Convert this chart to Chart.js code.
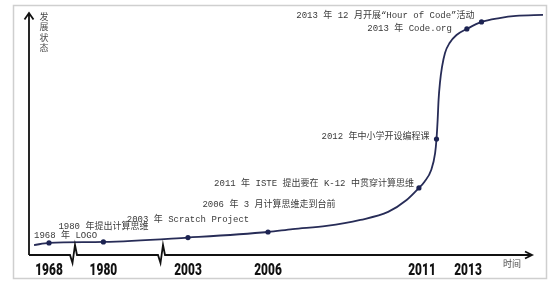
<!DOCTYPE html>
<html>
<head>
<meta charset="utf-8">
<script src="https://cdn.jsdelivr.net/npm/chart.js@4.4.1/dist/chart.umd.min.js"></script>
<style>
  html, body { margin: 0; padding: 0; background: #fff; }
  #wrap { width: 554px; height: 287px; position: relative; }
</style>
</head>
<body>
<div id="wrap"><canvas id="timeline"></canvas></div>
<script>
// years shown under the axis
const yearTicks = [1968, 1980, 2003, 2006, 2011, 2013];
// milestones (year as placed on the axis, "development level" 0-100)
const eventYears = [1968, 1980, 2003, 2006, 2010.9, 2011.63, 2012.95, 2013.45];
const eventValues = [5.0, 5.4, 7.2, 9.5, 27.7, 47.9, 93.4, 96.3];
const eventLabels = [
  "1968 年 LOGO",
  "1980 年提出计算思维",
  "2003 年 Scratch Project",
  "2006 年 3 月计算思维走到台前",
  "2011 年 ISTE 提出要在 K-12 中贯穿计算思维",
  "2012 年中小学开设编程课",
  "2013 年 Code.org",
  "2013 年 12 月开展“Hour of Code”活动",
];
// the S curve
const curveYears = [1966.75, 1968, 1980, 2003, 2006, 2006.8, 2007.9, 2009.0, 2009.9, 2010.5, 2010.9,
  2011.1, 2011.4, 2011.57, 2011.63, 2011.68, 2011.72, 2011.78, 2011.87, 2012.0, 2012.2, 2012.5,
  2012.95, 2013.45, 2014.05, 2014.6, 2015.5];
const curveValues = [4.1, 5.0, 5.4, 7.2, 9.5, 10.7, 12.0, 14.5, 17.8, 22.7, 27.7,
  30.2, 35.1, 42.1, 47.9, 55.8, 64.0, 71.1, 77.7, 83.5, 87.6, 90.9,
  93.4, 96.3, 97.9, 98.8, 99.2];

// broken time axis: [year, fraction of axis width]; equal fractions = a break
const axisKnots = [
  [1966.33, 0], [1970, 0.0856],
  [1978.1, 0.0856], [1983.6, 0.2568],
  [2002, 0.2568], [2003, 0.3093], [2006, 0.465], [2011, 0.7646], [2013, 0.8541], [2015.5, 1],
];
const axisBreaks = [1970, 1983.6];

class BrokenScale extends Chart.LinearScale {
  getPixelForValue(value) {
    const k = this.options.knots;
    if (value === null || value === undefined || isNaN(value)) return NaN;
    let i = 1;
    while (i < k.length - 1 && value > k[i][0]) i++;
    const [v0, f0] = k[i - 1];
    const [v1, f1] = k[i];
    const f = f0 + (value - v0) / (v1 - v0) * (f1 - f0);
    return this.left + f * this.width;
  }
  getValueForPixel(pixel) {
    const k = this.options.knots;
    const f = (pixel - this.left) / this.width;
    let i = 1;
    while (i < k.length - 1 && f > k[i][1]) i++;
    const [v0, f0] = k[i - 1];
    const [v1, f1] = k[i];
    if (f1 === f0) return v0;
    return v0 + (f - f0) / (f1 - f0) * (v1 - v0);
  }
}
BrokenScale.id = "broken";
BrokenScale.defaults = Chart.LinearScale.defaults;
Chart.register(BrokenScale);

const toPoints = (xs, ys) => xs.map((x, i) => ({ x: x, y: ys[i] }));

//frame, axes with arrows and breaks, year labels
const axesPlugin = {
  id: "axesPlugin",
  beforeDraw(chart) {
    const ctx = chart.ctx;
    ctx.save();
    ctx.fillStyle = "#fff";
    ctx.fillRect(0, 0, chart.width, chart.height);
    ctx.strokeStyle = "#cfcfcf";
    ctx.lineWidth = 1.5;
    ctx.strokeRect(13.5, 5.5, 533, 273);
    ctx.restore();
  },
  afterDraw(chart) {
    const ctx = chart.ctx;
    const a = chart.chartArea;
    const xs = chart.scales.x;
    const y0 = a.bottom;
    ctx.save();
    ctx.strokeStyle = "#111";
    ctx.lineWidth = 1.8;
    ctx.lineJoin = "miter";
    // y axis
    ctx.beginPath();
    ctx.moveTo(a.left, y0);
    ctx.lineTo(a.left, a.top);
    ctx.moveTo(a.left - 4.5, a.top + 6.5);
    ctx.lineTo(a.left, a.top);
    ctx.lineTo(a.left + 4.5, a.top + 6.5);
    ctx.stroke();
    // x axis with breaks
    const tipX = a.right - 11;
    ctx.beginPath();
    ctx.moveTo(a.left, y0);
    axisBreaks.forEach(b => {
      const bx = xs.getPixelForValue(b);
      ctx.lineTo(bx - 3, y0);
      ctx.lineTo(bx - 0.5, y0 + 8);
      ctx.lineTo(bx + 2, y0 - 10);
      ctx.lineTo(bx + 4, y0);
    });
    ctx.lineTo(tipX, y0);
    ctx.stroke();
    ctx.beginPath();
    ctx.moveTo(tipX - 7, y0 - 3.5);
    ctx.lineTo(tipX, y0);
    ctx.lineTo(tipX - 7, y0 + 3.5);
    ctx.stroke();
    // year labels, condensed bold
    ctx.fillStyle = "#111";
    ctx.font = "900 17px Roboto, 'DejaVu Sans', sans-serif";
    ctx.textAlign = "center";
    ctx.textBaseline = "alphabetic";
    yearTicks.forEach(yr => {
      const px = xs.getPixelForValue(yr);
      ctx.save();
      ctx.translate(px, y0 + 20);
      ctx.scale(0.7, 1);
      ctx.fillText(String(yr), 0, 0);
      ctx.restore();
    });
    // axis titles
    ctx.fillStyle = "#4a4a4a";
    ctx.font = "9px 'Noto Sans CJK SC'";
    ctx.textBaseline = "middle";
    "发展状态".split("").forEach((ch, i) => {
      ctx.fillText(ch, a.left + 15, a.top + 3.5 + i * 10.3);
    });
    ctx.fillText("时间", a.right - 31, y0 + 8.5);
    ctx.restore();
  },
};

//milestone texts next to each point
const labelPlugin = {
  id: "labelPlugin",
  afterDatasetsDraw(chart, args, opts) {
    const ctx = chart.ctx;
    const meta = chart.getDatasetMeta(0);
    ctx.save();
    ctx.fillStyle = "#3a3a3a";
    ctx.font = "9px 'Liberation Mono', 'Noto Sans CJK SC'";
    ctx.textBaseline = "middle";
    meta.data.forEach((pt, i) => {
      const p = opts.place[i];
      ctx.textAlign = p.align;
      ctx.fillText(eventLabels[i], pt.x + p.dx, pt.y + p.dy);
    });
    ctx.restore();
  },
};

const myChart = new Chart(document.getElementById("timeline"), {
  type: "line",
  plugins: [axesPlugin, labelPlugin],
  data: {
    datasets: [
      {
        label: "milestones",
        data: toPoints(eventYears, eventValues),
        showLine: false,
        pointRadius: 2.6,
        pointBackgroundColor: "#1c2352",
        pointBorderWidth: 0,
      },
      {
        label: "development",
        data: toPoints(curveYears, curveValues),
        borderColor: "#272c57",
        borderWidth: 1.8,
        pointRadius: 0,
        cubicInterpolationMode: "monotone",
        fill: false,
      },
    ],
  },
  options: {
    responsive: true,
    maintainAspectRatio: false,
    animation: false,
    layout: { padding: { left: 29, right: 11, top: 13, bottom: 32 } },
    scales: {
      x: { type: "broken", min: 1966.33, max: 2015.5, knots: axisKnots, display: false },
      y: { type: "linear", min: 0, max: 100, display: false },
    },
    plugins: {
      legend: { display: false },
      tooltip: { enabled: false },
      labelPlugin: {
        place: [
          { align: "left", dx: -15, dy: -7 },
          { align: "center", dx: 0, dy: -15 },
          { align: "center", dx: 0, dy: -18 },
          { align: "center", dx: 1, dy: -27 },
          { align: "right", dx: -5, dy: -4.5 },
          { align: "right", dx: -7, dy: -2.5 },
          { align: "right", dx: -15, dy: -0.5 },
          { align: "right", dx: -7, dy: -6 },
        ],
      },
    },
  },
});
</script>
</body>
</html>
